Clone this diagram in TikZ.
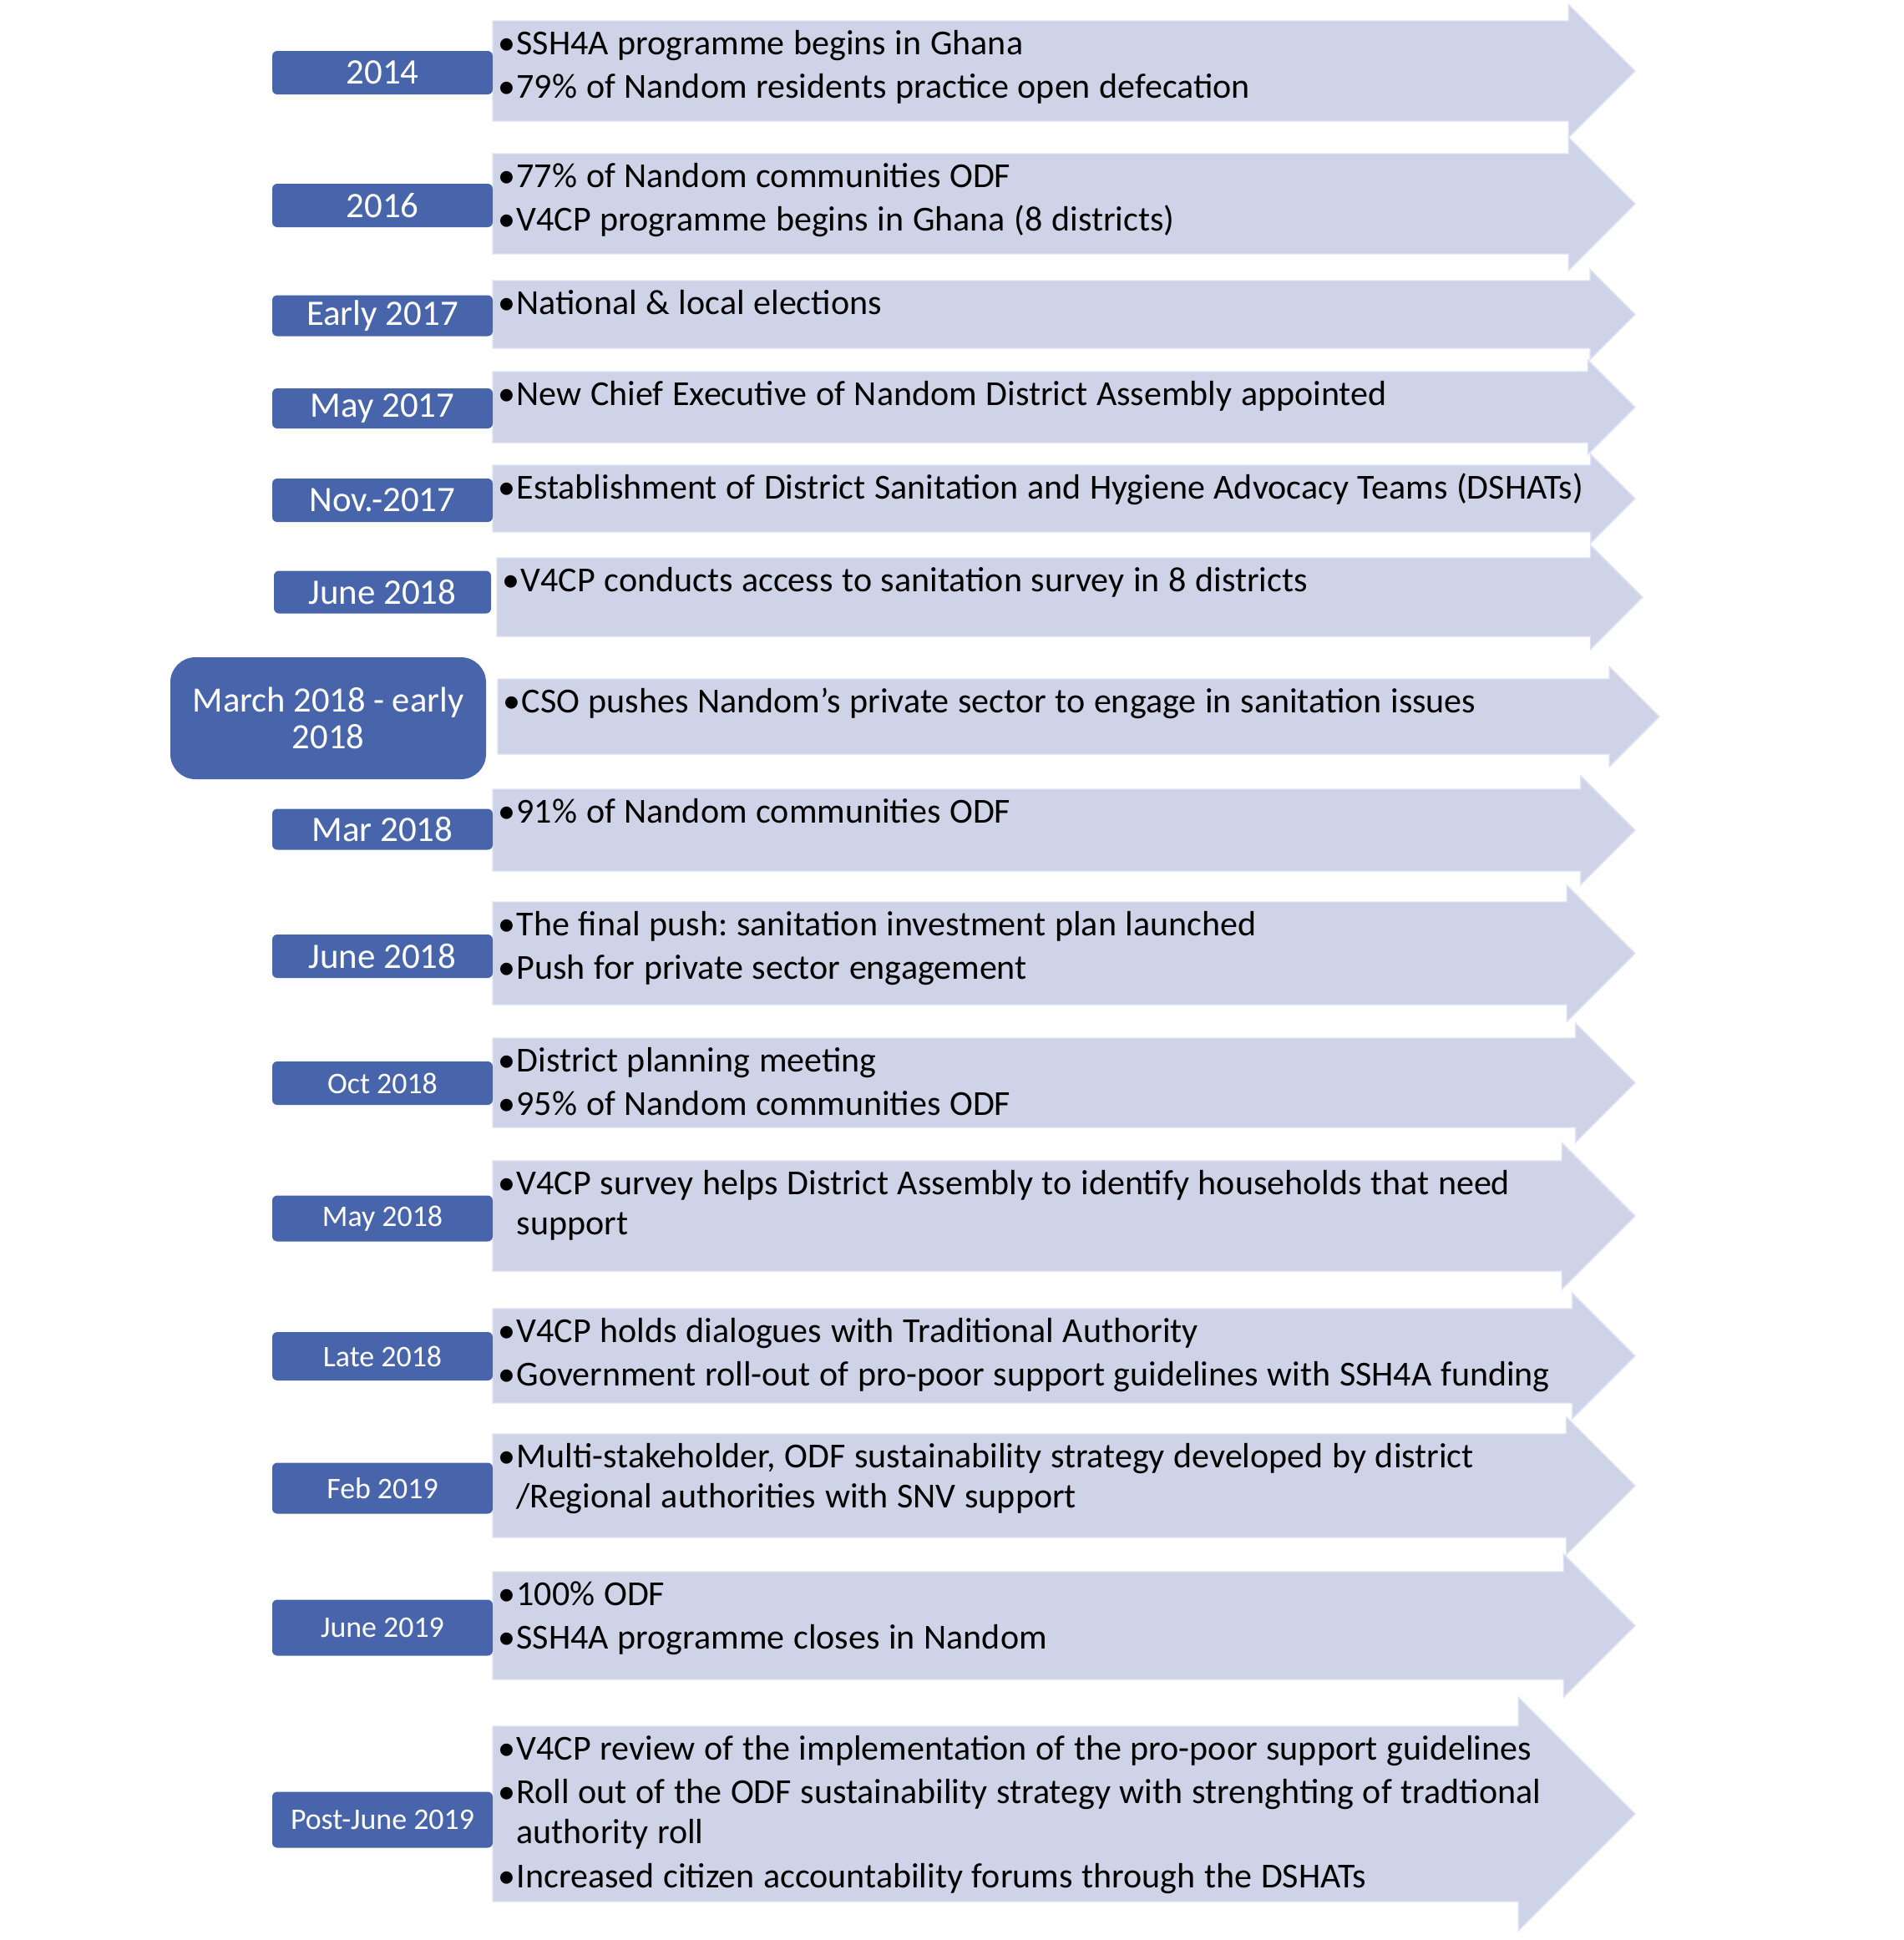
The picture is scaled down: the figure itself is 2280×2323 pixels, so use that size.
\documentclass[tikz,border=0pt]{standalone}
\usepackage{fontspec}
\setmainfont{Carlito}

\definecolor{datecol}{RGB}{72,101,172}
\definecolor{arrowcol}{RGB}{206,211,231}
\definecolor{arrowline}{RGB}{222,226,243}

\begin{document}
\begin{tikzpicture}[x=0.1mm, y=-0.1mm,
		arrowbody/.style={fill=arrowcol, draw=arrowline, line width=0.4pt},
		datebox/.style={fill=datecol, text=white, rounded corners=0.6mm, inner sep=0pt, align=center,
			minimum width=26.4mm, minimum height=5.1mm, font=\fontsize{12.2}{12.5}\selectfont},
		datesmall/.style={datebox, font=\fontsize{10.2}{12}\selectfont},
		events/.style={anchor=base west, inner sep=0pt, text width=145mm, align=left,
			font=\fontsize{11.95}{13.66}\selectfont,
			execute at begin node={\setlength{\parskip}{1.4pt}\frenchspacing\spaceskip=3.05pt plus 0.5pt}}
		]
		
		% Parameters
		\def\bodyleft{590}
		\def\tipx{1958}
		
		% Arrow: body top, body bottom, body left, tip
		\def\eventarrow#1#2#3#4{%
			\path[arrowbody] (#3,#1) -- ({#4-0.665*(#2-#1)},#1)
			-- ({#4-0.665*(#2-#1)},{(#1+#2)/2-0.665*(#2-#1)})
			-- (#4,{(#1+#2)/2})
			-- ({#4-0.665*(#2-#1)},{(#1+#2)/2+0.665*(#2-#1)})
			-- ({#4-0.665*(#2-#1)},#2) -- (#3,#2) -- cycle;}
		% Bullet with hanging indent
		\def\bul{\hangindent=2.4mm\hangafter=1\noindent\makebox[2.4mm][c]{•}}
		
		\useasboundingbox (0,0) rectangle (2280,2323);
		
		% 2014
		\eventarrow{25}{145}{\bodyleft}{\tipx}
		\node[datebox, minimum height=5.2mm] (date1) at (458,87) {2014};
		\node[events] (ev1) at (594,65) {\bul SSH4A programme begins in Ghana\par
			\bul 79\% of Nandom residents practice open defecation\par};
		
		% 2016
		\eventarrow{184}{304}{\bodyleft}{\tipx}
		\node[datebox, minimum height=5.2mm] (date2) at (458,246) {2016};
		\node[events] (ev2) at (594,224) {\bul 77\% of Nandom communities ODF\par
			\bul V4CP programme begins in Ghana (8 districts)\par};
		
		% Early 2017
		\eventarrow{336}{417}{\bodyleft}{\tipx}
		\node[datebox, minimum height=4.9mm] (date3) at (458,378) {Early 2017};
		\node[events] (ev3) at (594,376) {\bul National \& local elections\par};
		
		% May 2017
		\eventarrow{445}{530}{\bodyleft}{\tipx}
		\node[datebox, minimum height=4.8mm] (date4) at (458,489) {May 2017};
		\node[events] (ev4) at (594,485) {\bul New Chief Executive of Nandom District Assembly appointed\par};
		
		% Nov 2017
		\eventarrow{557}{637}{\bodyleft}{\tipx}
		\node[datebox, minimum height=5.2mm] (date5) at (458,599) {Nov.-2017};
		\node[events] (ev5) at (594,597) {\bul Establishment of District Sanitation and Hygiene Advocacy Teams (DSHATs)\par};
		
		% June 2018
		\eventarrow{668}{762}{595}{1967}
		\node[datebox, minimum width=26mm] (date6) at (458,709) {June 2018};
		\node[events] (ev6) at (599,708) {\bul V4CP conducts access to sanitation survey in 8 districts\par};
		
		% March 2018 - early 2018
		\eventarrow{813}{903}{596}{1987}
		\node[datebox, rounded corners=3mm, minimum width=37.8mm, minimum height=14.6mm,
			font=\fontsize{12.1}{12.5}\selectfont] (date7) at (393,860) {March 2018 - early\\2018};
		\node[events] (ev7) at (600,853) {\bul CSO pushes Nandom’s private sector to engage in sanitation issues\par};
		
		% Mar 2018
		\eventarrow{945}{1043}{\bodyleft}{\tipx}
		\node[datebox, minimum height=4.9mm] (date8) at (458,993) {Mar 2018};
		\node[events] (ev8) at (594,985) {\bul 91\% of Nandom communities ODF\par};
		
		% June 2018
		\eventarrow{1080}{1203}{\bodyleft}{\tipx}
		\node[datebox, minimum height=5.2mm] (date9) at (458,1145) {June 2018};
		\node[events] (ev9) at (594,1120) {\bul The final push: sanitation investment plan launched\par
			\bul Push for private sector engagement\par};
		
		% Oct 2018
		\eventarrow{1243}{1350}{\bodyleft}{\tipx}
		\node[datesmall, minimum height=5.2mm] (date10) at (458,1297) {Oct 2018};
		\node[events] (ev10) at (594,1283) {\bul District planning meeting\par
			\bul 95\% of Nandom communities ODF\par};
		
		% May 2018
		\eventarrow{1390}{1522}{\bodyleft}{\tipx}
		\node[datesmall, minimum height=5.5mm] (date11) at (458,1459) {May 2018};
		\node[events] (ev11) at (594,1430) {\bul V4CP survey helps District Assembly to identify households that need\newline support\par};
		
		% Late 2018
		\eventarrow{1567}{1680}{\bodyleft}{\tipx}
		\node[datesmall, minimum height=5.8mm] (date12) at (458,1624) {Late 2018};
		\node[events] (ev12) at (594,1607) {\bul V4CP holds dialogues with Traditional Authority\par
			\bul Government roll-out of pro-poor support guidelines with SSH4A funding\par};
		
		% Feb 2019
		\eventarrow{1717}{1841}{\bodyleft}{\tipx}
		\node[datesmall, minimum height=6.1mm] (date13) at (458,1782) {Feb 2019};
		\node[events] (ev13) at (594,1757) {\bul Multi-stakeholder, ODF sustainability strategy developed by district\newline /Regional authorities with SNV support\par};
		
		% June 2019
		\eventarrow{1882}{2011}{\bodyleft}{\tipx}
		\node[datesmall, minimum height=6.7mm] (date14) at (458,1949) {June 2019};
		\node[events] (ev14) at (594,1922) {\bul 100\% ODF\par
			\bul SSH4A programme closes in Nandom\par};
		
		% Post-June 2019
		\eventarrow{2067}{2277}{\bodyleft}{\tipx}
		\node[datesmall, minimum height=6.7mm] (date15) at (458,2179) {Post-June 2019};
		\node[events] (ev15) at (594,2107) {\bul V4CP review of the implementation of the pro-poor support guidelines\par
			\bul Roll out of the ODF sustainability strategy with strenghting of tradtional\newline authority roll\par
			\bul Increased citizen accountability forums through the DSHATs\par};
		
	\end{tikzpicture}
\end{document}
